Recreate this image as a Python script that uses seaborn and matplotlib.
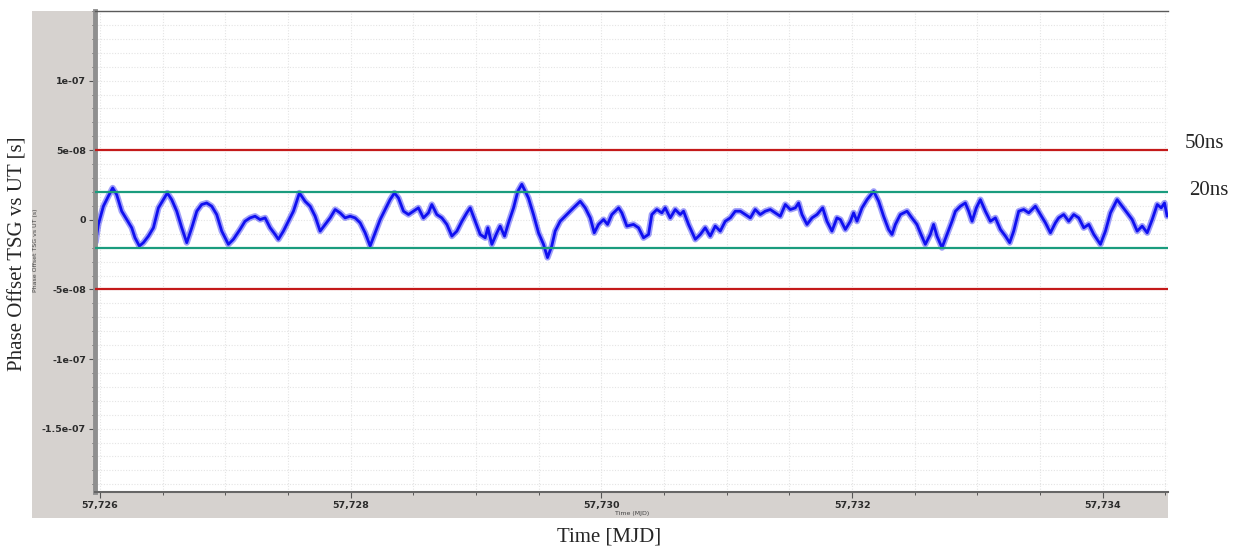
import matplotlib
matplotlib.use("Agg")
import matplotlib.pyplot as plt
from matplotlib.patches import Rectangle
from matplotlib.ticker import FixedLocator, FixedFormatter, MultipleLocator
import pandas as pd
import seaborn as sns

MJD_START = 57726

# days since MJD 57726
DAYS = [
    -0.035, -0.013, 0.027, 0.066, 0.101, 0.133, 0.173, 0.213, 0.253, 0.279,
    0.314, 0.346, 0.386, 0.426, 0.466, 0.505, 0.537, 0.572, 0.612, 0.652,
    0.692, 0.732, 0.772, 0.811, 0.851, 0.891, 0.931, 0.971, 1.024, 1.064,
    1.117, 1.157, 1.197, 1.237, 1.277, 1.317, 1.357, 1.397, 1.423, 1.463,
    1.503, 1.543, 1.591, 1.636, 1.676, 1.716, 1.756, 1.796, 1.836, 1.876,
    1.915, 1.955, 1.995, 2.035, 2.075, 2.115, 2.155, 2.195, 2.235, 2.275,
    2.314, 2.349, 2.381, 2.421, 2.461, 2.500, 2.540, 2.580, 2.620, 2.647,
    2.687, 2.727, 2.767, 2.807, 2.847, 2.887, 2.926, 2.953, 2.993, 3.033,
    3.073, 3.094, 3.126, 3.166, 3.192, 3.227, 3.259, 3.299, 3.333, 3.365,
    3.418, 3.458, 3.498, 3.538, 3.570, 3.604, 3.631, 3.671, 3.724, 3.777,
    3.831, 3.871, 3.911, 3.943, 3.977, 4.017, 4.049, 4.083, 4.137, 4.163,
    4.203, 4.256, 4.296, 4.336, 4.376, 4.402, 4.442, 4.482, 4.509, 4.549,
    4.589, 4.629, 4.655, 4.695, 4.749, 4.789, 4.828, 4.868, 4.908, 4.948,
    4.988, 5.028, 5.068, 5.108, 5.148, 5.188, 5.227, 5.267, 5.307, 5.347,
    5.387, 5.427, 5.467, 5.507, 5.547, 5.573, 5.600, 5.640, 5.680, 5.720,
    5.765, 5.799, 5.839, 5.879, 5.906, 5.946, 5.986, 6.012, 6.039, 6.079,
    6.119, 6.172, 6.212, 6.251, 6.291, 6.318, 6.345, 6.385, 6.438, 6.477,
    6.517, 6.544, 6.584, 6.624, 6.650, 6.677, 6.717, 6.757, 6.797, 6.824,
    6.864, 6.903, 6.930, 6.957, 6.991, 7.023, 7.063, 7.103, 7.143, 7.183,
    7.223, 7.257, 7.289, 7.329, 7.369, 7.409, 7.462, 7.502, 7.542, 7.582,
    7.622, 7.648, 7.688, 7.728, 7.768, 7.808, 7.848, 7.888, 7.928, 7.981,
    8.021, 8.061, 8.114, 8.154, 8.194, 8.234, 8.274, 8.314, 8.354, 8.394,
    8.434, 8.466, 8.492, 8.513,
]

# phase offset in ns
PHASE_NS = [
    -16.0, -3.3, 9.8, 16.9, 22.9, 18.1, 6.2, 0.2, -5.7, -12.9,
    -18.8, -16.4, -11.7, -5.7, 8.6, 14.5, 19.3, 14.5, 6.2, -5.7,
    -16.4, -5.7, 6.2, 11.0, 12.1, 9.8, 3.8, -8.1, -17.6, -14.0,
    -6.9, -1.0, 1.4, 2.6, 0.2, 1.4, -5.7, -10.5, -14.0, -8.1,
    -1.0, 6.2, 19.3, 13.3, 9.8, 2.6, -8.1, -3.3, 1.4, 7.4,
    5.0, 1.4, 2.6, 1.4, -2.1, -9.3, -18.8, -9.3, 0.2, 7.4,
    14.5, 19.3, 15.7, 6.2, 3.8, 6.2, 8.6, 1.4, 5.0, 11.0,
    3.8, 1.4, -3.3, -11.7, -8.1, -1.0, 5.0, 8.6, -1.0, -10.5,
    -12.9, -5.7, -17.6, -9.3, -4.5, -11.7, -2.1, 8.6, 20.5, 25.5,
    15.7, 3.8, -9.3, -17.6, -27.1, -18.8, -8.1, -1.0, 3.8, 8.6,
    13.3, 8.6, 1.4, -9.3, -3.3, 0.2, -3.3, 3.8, 8.6, 5.0,
    -4.5, -3.3, -5.7, -12.9, -10.5, 3.8, 7.4, 5.0, 8.6, 1.4,
    7.4, 3.8, 6.2, -3.3, -14.0, -10.5, -5.7, -11.7, -4.5, -8.1,
    -1.0, 1.4, 6.2, 6.2, 3.8, 1.4, 7.4, 3.8, 6.2, 7.4,
    5.0, 2.6, 11.0, 7.4, 8.6, 12.1, 3.8, -3.3, 1.4, 3.8,
    8.6, -1.0, -8.1, 1.4, 0.2, -6.9, -1.0, 5.0, -1.0, 8.6,
    14.5, 20.5, 13.3, 2.6, -6.9, -10.5, -3.3, 3.8, 6.2, 1.4,
    -3.3, -9.3, -17.6, -10.5, -3.3, -11.7, -20.0, -10.5, -1.0, 6.2,
    9.8, 12.1, 6.2, -1.0, 8.6, 14.5, 6.2, -1.0, 1.4, -6.9,
    -11.7, -16.4, -8.1, 6.2, 7.4, 5.0, 9.8, 3.8, -2.1, -9.3,
    -2.1, 1.4, 3.8, -1.0, 3.8, 1.4, -5.7, -3.3, -10.5, -17.6,
    -8.1, 5.0, 14.5, 9.8, 5.0, 0.2, -8.1, -4.5, -9.3, 0.2,
    11.0, 8.6, 12.1, 2.6,
]

LIMIT_OUTER = 5e-08
LIMIT_INNER = 2e-08
LIMIT_LABELS = ["50ns", "20ns"]

Y_TICKS = [1e-07, 5e-08, 0, -5e-08, -1e-07, -1.5e-07]
Y_TICK_LABELS = ["1e-07", "5e-08", "0", "-5e-08", "-1e-07", "-1.5e-07"]
X_TICKS = [57726, 57728, 57730, 57732, 57734]
X_TICK_LABELS = ["57,726", "57,728", "57,730", "57,732", "57,734"]

W, H = 1237, 550


def create_plot(df: pd.DataFrame, filename: str) -> None:

    color_panel = "#d6d2cf"
    color_axis = "#555555"
    color_trace = "#1010f0"
    color_red = "#c41a1a"
    color_green = "#1a9c7e"

    sns.set_theme(style="ticks")
    plt.rcParams["font.family"] = ["DejaVu Sans"]

    fig = plt.figure(figsize=(W / 100, H / 100), dpi=100)
    fig.patch.set_facecolor("white")

    # grey panel behind the plot, like the original screenshot
    fig.add_artist(Rectangle((32 / W, 1 - 518 / H), (1168 - 32) / W, (518 - 11) / H,
                             transform=fig.transFigure, facecolor=color_panel,
                             edgecolor="none", zorder=-5))

    ax = fig.add_axes([95 / W, 1 - 492 / H, (1168 - 95) / W, (492 - 11) / H])
    ax.set_facecolor("white")

    # fuzzy band under the trace, then the trace itself
    sns.lineplot(data=df, x="MJD", y="PHASE", color=color_trace, alpha=0.4,
                 linewidth=4.5, sort=False, estimator=None, ax=ax)
    sns.lineplot(data=df, x="MJD", y="PHASE", color=color_trace,
                 linewidth=2.0, sort=False, estimator=None, ax=ax)

    for level in (LIMIT_OUTER, -LIMIT_OUTER):
        ax.axhline(level, color=color_red, linewidth=1.6, zorder=3)
    for level in (LIMIT_INNER, -LIMIT_INNER):
        ax.axhline(level, color=color_green, linewidth=1.6, zorder=3)

    ax.set_xlim(57725.96, 57734.52)
    ax.set_ylim(-1.955e-07, 1.5e-07)

    ax.xaxis.set_major_locator(FixedLocator(X_TICKS))
    ax.xaxis.set_major_formatter(FixedFormatter(X_TICK_LABELS))
    ax.xaxis.set_minor_locator(MultipleLocator(0.5))
    ax.yaxis.set_major_locator(FixedLocator(Y_TICKS))
    ax.yaxis.set_major_formatter(FixedFormatter(Y_TICK_LABELS))
    ax.yaxis.set_minor_locator(MultipleLocator(1e-08))

    ax.tick_params(which="major", length=4.5, width=0.8, color=color_axis,
                   labelsize=6.8, labelcolor="#2b2b2b", pad=2)
    ax.tick_params(which="minor", length=2.2, width=0.7, color=color_axis)
    for lbl in ax.get_xticklabels() + ax.get_yticklabels():
        lbl.set_fontweight("bold")

    ax.grid(which="both", color="#e4e4e4", linestyle=(0, (1, 1.5)), linewidth=0.8)

    ax.spines["right"].set_visible(False)
    ax.spines["top"].set_color("#5a5a5a")
    ax.spines["top"].set_linewidth(1.0)
    ax.spines["bottom"].set_color("#666666")
    ax.spines["bottom"].set_linewidth(1.5)
    ax.spines["left"].set_color("#8f8f8f")
    ax.spines["left"].set_linewidth(3.5)

    ax.set_xlabel("")
    ax.set_ylabel("")

    # small labels inside the grey panel
    fig.text(36 / W, 1 - 250 / H, "Phase Offset TSG vs UT (s)", rotation=90,
             fontsize=4.5, color="#444444", ha="center", va="center")
    fig.text(632 / W, 1 - 514 / H, "Time (MJD)", fontsize=4.5,
             color="#444444", ha="center", va="center")

    # big serif labels
    serif = ["Liberation Serif", "DejaVu Serif"]
    fig.text(18 / W, 1 - 254 / H, "Phase Offset TSG vs UT [s]", rotation=90,
             fontsize=15, family=serif, ha="center", va="center")
    fig.text(609 / W, 1 - 537 / H, "Time [MJD]", fontsize=15, family=serif,
             ha="center", va="center")

    trans = ax.get_yaxis_transform()
    ax.text(1.0152, 5.46e-08, LIMIT_LABELS[0], transform=trans, fontsize=15,
            family=serif, ha="left", va="center")
    ax.text(1.0196, 2.1e-08, LIMIT_LABELS[1], transform=trans, fontsize=15,
            family=serif, ha="left", va="center")

    fig.savefig(filename, dpi=100)


def load_data() -> pd.DataFrame:
    df = pd.DataFrame({"DAYS": DAYS, "PHASE_NS": PHASE_NS})
    df["MJD"] = MJD_START + df["DAYS"]
    df["PHASE"] = df["PHASE_NS"] * 1e-09
    return df


def main() -> None:
    df = load_data()
    create_plot(df, "out.png")


if __name__ == "__main__":
    main()
